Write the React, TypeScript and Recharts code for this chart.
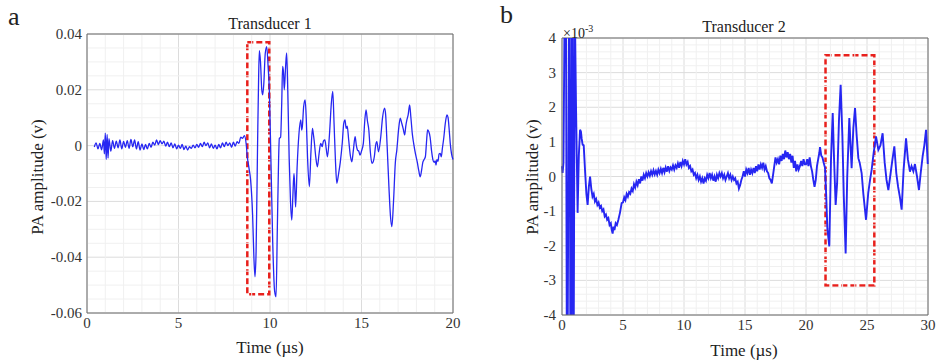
import React from 'react';
import { LineChart, Line, XAxis, YAxis, CartesianGrid, ReferenceLine, ReferenceArea } from 'recharts';

// Transducer 1 (time in µs, amplitude in V)
const leftTime = [
  0.4, 0.5, 0.6, 0.7, 0.8, 0.9, 0.95, 1.0, 1.05, 1.1, 1.15, 1.2, 1.3, 1.4, 1.5, 1.6, 1.7, 1.8, 1.9, 2.0,
  2.1, 2.2, 2.3, 2.4, 2.5, 2.6, 2.7, 2.8, 2.9, 3.0, 3.1, 3.2, 3.3, 3.4, 3.5, 3.6, 3.7, 3.8, 3.9, 4.0,
  4.1, 4.2, 4.3, 4.4, 4.5, 4.6, 4.7, 4.8, 4.9, 5.0, 5.1, 5.2, 5.3, 5.4, 5.5, 5.6, 5.7, 5.8, 5.9, 6.0,
  6.1, 6.2, 6.3, 6.4, 6.5, 6.6, 6.7, 6.8, 6.9, 7.0, 7.1, 7.2, 7.3, 7.4, 7.5, 7.6, 7.7, 7.8, 7.9, 8.0,
  8.1, 8.2, 8.3, 8.4, 8.5, 8.6, 8.7, 8.76, 8.85, 8.94, 9.05, 9.12, 9.18, 9.24, 9.32, 9.38, 9.42, 9.48, 9.55, 9.6,
  9.66, 9.74, 9.82, 9.9, 9.96, 10.05, 10.15, 10.25, 10.33, 10.4, 10.47, 10.51, 10.58, 10.64, 10.69, 10.74, 10.78, 10.85, 10.91, 10.97,
  11.05, 11.12, 11.19, 11.25, 11.31, 11.36, 11.4, 11.48, 11.58, 11.68, 11.73, 11.77, 11.84, 11.92, 11.98, 12.05, 12.15, 12.24, 12.32, 12.37,
  12.41, 12.5, 12.59, 12.68, 12.77, 12.85, 12.92, 13.0, 13.07, 13.14, 13.25, 13.35, 13.43, 13.5, 13.58, 13.65, 13.75, 13.84, 13.95, 14.03,
  14.1, 14.16, 14.22, 14.3, 14.4, 14.47, 14.55, 14.65, 14.72, 14.78, 14.85, 14.92, 15.0, 15.1, 15.18, 15.25, 15.32, 15.4, 15.48, 15.57,
  15.64, 15.7, 15.77, 15.84, 15.93, 16.05, 16.15, 16.26, 16.32, 16.4, 16.5, 16.58, 16.66, 16.75, 16.85, 16.93, 17.03, 17.12, 17.2, 17.28,
  17.36, 17.42, 17.48, 17.55, 17.63, 17.7, 17.78, 17.85, 17.95, 18.05, 18.13, 18.21, 18.28, 18.35, 18.42, 18.49, 18.55, 18.61, 18.68, 18.75,
  18.83, 18.9, 18.97, 19.03, 19.07, 19.12, 19.18, 19.24, 19.3, 19.36, 19.42, 19.5, 19.58, 19.67, 19.73, 19.8, 19.85, 19.92, 20.0,
];
const leftAmp = [
  -0.0005, 0.001, -0.0012, 0.0008, -0.0015, 0.002, -0.003, 0.0045, -0.005, 0.004, -0.0045, 0.0025, -0.002, 0.0018, -0.001, 0.0016, -0.0008, 0.002, -0.0012, 0.0015,
  -0.0006, 0.0018, -0.001, 0.0022, -0.0004, 0.002, -0.0012, 0.0014, -0.0016, 0.0006, -0.0014, 0.0004, -0.0012, 0.0008, -0.0006, 0.0012, 0.0002, 0.002, 0.0004, 0.0018,
  0.0006, 0.0016, -0.0002, 0.0012, -0.0004, 0.001, -0.0008, 0.0006, -0.0012, 0.0002, -0.001, 0.0004, -0.0014, -0.0002, -0.0016, -0.0004, -0.001, 0.0002, -0.0008, 0.0004,
  -0.0006, 0.0008, -0.0004, 0.0012, 0.0, 0.001, -0.0008, 0.0006, -0.001, 0.0002, -0.0012, 0.0004, -0.0008, 0.001, -0.0004, 0.0012, 0.0, 0.001, -0.0006, 0.0012,
  -0.0002, 0.0014, 0.0008, 0.003, 0.0026, 0.0036, 0.0005, -0.004, -0.008, -0.0123, -0.025, -0.04, -0.047, -0.038, 0.0, 0.025, 0.034, 0.03, 0.02, 0.0182,
  0.022, 0.033, 0.0355, 0.028, 0.0206, -0.005, -0.035, -0.052, -0.0542, -0.03, -0.005, 0.0026, 0.003, 0.015, 0.0284, 0.026, 0.02, 0.028, 0.0332, 0.02,
  -0.005, -0.02, -0.0267, -0.018, -0.01, -0.016, -0.022, -0.008, 0.004, 0.0092, 0.0056, 0.007, 0.014, 0.0164, 0.01, -0.004, -0.0147, -0.002, 0.0062, 0.004,
  0.002, -0.004, -0.0076, -0.003, 0.0008, -0.0004, 0.0016, 0.002, -0.001, -0.004, 0.004, 0.015, 0.0194, 0.008, -0.006, -0.0135, -0.01, -0.006, 0.001, 0.008,
  0.0092, 0.0062, 0.007, 0.002, -0.004, -0.0058, -0.002, 0.0032, 0.0, -0.0016, -0.002, -0.0034, -0.002, 0.0008, 0.009, 0.0128, 0.009, 0.0056, -0.002, -0.0064,
  -0.0058, -0.004, 0.0, 0.0014, -0.0022, 0.003, 0.01, 0.0134, 0.011, 0.0, -0.015, -0.025, -0.029, -0.02, -0.006, -0.0016, 0.006, 0.0098, 0.008, 0.006,
  0.0038, 0.007, 0.0092, 0.011, 0.0146, 0.01, 0.004, 0.0008, -0.003, -0.006, -0.009, -0.0112, -0.009, -0.006, -0.005, -0.004, 0.001, 0.0056, 0.005, 0.003,
  -0.002, -0.005, -0.006, -0.0055, -0.007, -0.005, -0.0056, -0.003, -0.0028, -0.004, -0.001, 0.003, 0.008, 0.011, 0.01, 0.005, 0.0008, -0.003, -0.005,
];

// Transducer 2 (time in µs, amplitude in units of 1e-3 V)
const rightTime = [
  0.0, 0.05, 0.12, 0.3, 0.42, 0.62, 0.7, 0.86, 0.92, 1.05, 1.15, 1.22, 1.28, 1.38, 1.48, 1.55, 1.61, 1.69,
  1.78, 1.9, 2.0, 2.1, 2.2, 2.3, 2.4, 2.5, 2.6, 2.7, 2.8, 2.9, 3.0, 3.1, 3.2, 3.3, 3.4, 3.5, 3.6, 3.7,
  3.8, 3.9, 4.0, 4.08, 4.15, 4.22, 4.3, 4.4, 4.5, 4.62, 4.75, 4.89, 5.0, 5.1, 5.2, 5.3, 5.4, 5.5, 5.6, 5.7,
  5.8, 5.9, 6.0, 6.1, 6.2, 6.3, 6.4, 6.5, 6.6, 6.7, 6.8, 6.9, 7.0, 7.1, 7.2, 7.3, 7.4, 7.5, 7.6, 7.7,
  7.8, 7.9, 8.0, 8.1, 8.2, 8.3, 8.4, 8.5, 8.6, 8.7, 8.8, 8.9, 9.0, 9.1, 9.2, 9.3, 9.4, 9.5, 9.6, 9.7,
  9.8, 9.9, 10.0, 10.1, 10.2, 10.3, 10.4, 10.5, 10.6, 10.7, 10.8, 10.9, 11.0, 11.1, 11.2, 11.3, 11.4, 11.5, 11.6, 11.7,
  11.8, 11.9, 12.0, 12.1, 12.2, 12.3, 12.4, 12.5, 12.6, 12.7, 12.8, 12.9, 13.0, 13.1, 13.2, 13.3, 13.4, 13.5, 13.6, 13.7,
  13.8, 13.9, 14.0, 14.1, 14.2, 14.3, 14.4, 14.5, 14.6, 14.7, 14.8, 14.9, 15.0, 15.1, 15.2, 15.3, 15.4, 15.5, 15.6, 15.7,
  15.8, 15.9, 16.0, 16.1, 16.2, 16.3, 16.4, 16.5, 16.6, 16.7, 16.8, 16.9, 17.0, 17.1, 17.2, 17.3, 17.4, 17.5, 17.6, 17.7,
  17.8, 17.9, 18.0, 18.1, 18.2, 18.3, 18.4, 18.5, 18.6, 18.7, 18.8, 18.9, 19.0, 19.1, 19.2, 19.3, 19.4, 19.5, 19.6, 19.7,
  19.8, 19.9, 20.0, 20.1, 20.2, 20.3, 20.4, 20.5, 20.6, 20.7, 20.8, 20.9, 21.0, 21.1, 21.15, 21.25, 21.35, 21.45, 21.56, 21.65,
  21.75, 21.91, 22.05, 22.19, 22.3, 22.43, 22.55, 22.7, 22.84, 22.98, 23.1, 23.25, 23.38, 23.55, 23.65, 23.74, 23.88, 24.02, 24.15, 24.29,
  24.4, 24.56, 24.7, 24.92, 25.1, 25.25, 25.38, 25.55, 25.74, 25.93, 26.1, 26.28, 26.45, 26.6, 26.75, 26.9, 27.05, 27.24, 27.4, 27.55,
  27.7, 27.84, 28.0, 28.2, 28.35, 28.52, 28.65, 28.8, 28.93, 29.1, 29.26, 29.4, 29.56, 29.7, 29.84, 29.98,
];
const rightAmp = [
  0.3, 0.1, 0.4, 9, -9, 9, -9, 9, -9, 5, 2.0, 0.4, -1.05, 0.6, 1.35, 1.3, 1.1, 0.92,
  0.9, 0.1, -0.5, -0.82, -0.3, 0.0, -0.35, -0.58, -0.5, -0.72, -0.65, -0.82, -0.75, -0.9, -0.85, -1.0, -0.95, -1.15, -1.1, -1.25,
  -1.2, -1.4, -1.35, -1.55, -1.65, -1.45, -1.55, -1.35, -1.4, -1.25, -1.05, -0.77, -0.75, -0.6, -0.68, -0.5, -0.58, -0.45, -0.5, -0.35,
  -0.42, -0.22, -0.32, -0.15, -0.25, -0.08, -0.2, 0.0, -0.12, 0.05, -0.05, 0.1, 0.0, 0.12, 0.02, 0.15, 0.05, 0.18, 0.06, 0.16,
  0.05, 0.2, 0.1, 0.22, 0.1, 0.25, 0.12, 0.26, 0.14, 0.3, 0.16, 0.26, 0.2, 0.32, 0.2, 0.32, 0.25, 0.38, 0.25, 0.42,
  0.3, 0.45, 0.35, 0.5, 0.35, 0.42, 0.25, 0.3, 0.15, 0.2, 0.05, 0.1, -0.05, 0.05, -0.1, 0.0, -0.15, -0.05, -0.2, -0.05,
  -0.12, 0.05, -0.05, 0.1, -0.05, 0.05, -0.12, 0.0, -0.15, 0.05, -0.05, 0.1, 0.0, 0.1, -0.05, 0.05, -0.1, 0.0, 0.1, -0.05,
  0.05, -0.1, 0.0, -0.1, -0.05, -0.2, -0.15, -0.35, -0.25, -0.1, 0.0, 0.15, 0.0, 0.2, 0.1, 0.25, 0.05, 0.2, 0.1, 0.25,
  0.1, 0.3, 0.15, 0.35, 0.2, 0.35, 0.25, 0.4, 0.2, 0.3, 0.15, 0.1, -0.05, -0.1, -0.2, 0.05, 0.3, 0.55, 0.4, 0.5,
  0.35, 0.6, 0.45, 0.65, 0.5, 0.75, 0.55, 0.7, 0.5, 0.65, 0.4, 0.6, 0.25, 0.45, 0.15, 0.35, 0.2, 0.3, 0.45, 0.3,
  0.5, 0.35, 0.35, 0.5, 0.3, 0.55, 0.3, 0.15, -0.1, -0.3, -0.1, 0.3, 0.5, 0.7, 0.85, 0.6, 0.55, 0.4, 0.25, -0.5,
  -1.5, -2.02, 0.5, 1.83, 0.5, -0.82, -0.2, 1.6, 2.65, 1.2, -0.6, -2.22, 0.0, 1.69, 0.9, 0.24, 1.4, 1.98, 1.2, 0.53,
  0.4, 0.1, -0.5, -1.25, -0.48, -0.1, 0.19, 0.7, 1.16, 0.77, 0.9, 1.25, 0.4, -0.1, -0.39, 0.0, 0.4, 0.87, 0.1, -0.3,
  -0.6, -0.96, 0.2, 1.1, 0.5, 0.14, 0.3, 0.15, 0.36, 0.0, -0.39, 0.1, 0.58, 0.9, 1.35, 0.36,
];

const leftXTicks = [0, 5, 10, 15, 20];
const leftYTicks = [-0.06, -0.04, -0.02, 0, 0.02, 0.04];
const leftMinorX = [1, 2, 3, 4, 6, 7, 8, 9, 11, 12, 13, 14, 16, 17, 18, 19];
const leftMinorY = [-0.055, -0.05, -0.045, -0.035, -0.03, -0.025, -0.015, -0.01, -0.005, 0.005, 0.01, 0.015, 0.025, 0.03, 0.035];

const rightXTicks = [0, 5, 10, 15, 20, 25, 30];
const rightYTicks = [-4, -3, -2, -1, 0, 1, 2, 3, 4];
const rightMinorX = [1, 2, 3, 4, 6, 7, 8, 9, 11, 12, 13, 14, 16, 17, 18, 19, 21, 22, 23, 24, 26, 27, 28, 29];
const rightMinorY = [
  -3.8, -3.6, -3.4, -3.2, -2.8, -2.6, -2.4, -2.2, -1.8, -1.6, -1.4, -1.2, -0.8, -0.6, -0.4, -0.2,
  0.2, 0.4, 0.6, 0.8, 1.2, 1.4, 1.6, 1.8, 2.2, 2.4, 2.6, 2.8, 3.2, 3.4, 3.6, 3.8,
];

const leftData = leftTime.map((t, i) => ({ t, v: leftAmp[i] }));
const rightData = rightTime.map((t, i) => ({ t, v: rightAmp[i] }));

const FONT = '"Liberation Serif", "Times New Roman", serif';
const BLUE = '#2626f2';
const RED = '#e8201c';
const AXIS = '#6b6b6b';
const MAJOR = '#dcdcdc';
const MINOR = '#f0f0f0';

const fmtLeft = (v: number) => (v === 0 ? '0' : v.toFixed(2));

// serif tick labels drawn by hand so the font is sure to apply
const XTick = (p: any) => (
  <text x={p.x} y={p.y + 13} textAnchor="middle" fontSize={15} fill="#333" style={{ fontFamily: FONT }}>
    {p.payload.value}
  </text>
);
const makeYTick = (fmt: (v: number) => string) => (p: any) => (
  <text x={p.x} y={p.y + 5} textAnchor="end" fontSize={15} fill="#333" style={{ fontFamily: FONT }}>
    {fmt(p.payload.value)}
  </text>
);
const LeftYTick = makeYTick(fmtLeft);
const RightYTick = makeYTick((v) => String(v));

const txt = (extra: React.CSSProperties): React.CSSProperties => ({
  position: 'absolute',
  fontFamily: FONT,
  color: '#222',
  whiteSpace: 'nowrap',
  lineHeight: 1,
  ...extra,
});

export default function App() {
  return (
    <div style={{ position: 'absolute', left: 0, top: 0, width: 936, height: 363, background: '#fff', fontFamily: FONT }}>
      <div style={{ position: 'absolute', left: 0, top: 0 }}>
        <LineChart width={466} height={363} data={leftData} margin={{ top: 34, right: 13, bottom: 20, left: 27 }}>
          {leftMinorX.map((x) => (
            <ReferenceLine key={'lx' + x} x={x} stroke={MINOR} />
          ))}
          {leftMinorY.map((y) => (
            <ReferenceLine key={'ly' + y} y={y} stroke={MINOR} />
          ))}
          <CartesianGrid stroke={MAJOR} />
          <XAxis
            dataKey="t"
            type="number"
            domain={[0, 20]}
            ticks={leftXTicks}
            height={30}
            tickSize={0}
            tickMargin={2}
            tick={XTick}
            stroke={AXIS}
          />
          <YAxis
            type="number"
            domain={[-0.06, 0.04]}
            ticks={leftYTicks}
            width={60}
            tickSize={0}
            tickMargin={5}
            tick={LeftYTick}
            stroke={AXIS}
          />
          <ReferenceLine y={0.04} stroke={AXIS} />
          <ReferenceLine x={20} stroke={AXIS} />
          <Line type="monotone" dataKey="v" stroke={BLUE} strokeWidth={1.3} dot={false} isAnimationActive={false} />
          <ReferenceArea x1={8.76} x2={9.96} y1={-0.0533} y2={0.037} fill="none" stroke={RED} strokeWidth={2.5} strokeDasharray="6 3" />
        </LineChart>
      </div>

      <div style={{ position: 'absolute', left: 466, top: 0 }}>
        <LineChart width={470} height={363} data={rightData} margin={{ top: 38, right: 8, bottom: 18, left: 36 }}>
          {rightMinorX.map((x) => (
            <ReferenceLine key={'rx' + x} x={x} stroke={MINOR} />
          ))}
          {rightMinorY.map((y) => (
            <ReferenceLine key={'ry' + y} y={y} stroke={MINOR} />
          ))}
          <CartesianGrid stroke={MAJOR} />
          <XAxis
            dataKey="t"
            type="number"
            domain={[0, 30]}
            ticks={rightXTicks}
            height={30}
            tickSize={0}
            tickMargin={2}
            tick={XTick}
            stroke={AXIS}
          />
          <YAxis
            type="number"
            domain={[-4, 4]}
            allowDataOverflow
            ticks={rightYTicks}
            width={60}
            tickSize={0}
            tickMargin={6}
            tick={RightYTick}
            stroke={AXIS}
          />
          <ReferenceLine y={4} stroke={AXIS} />
          <ReferenceLine x={30} stroke={AXIS} />
          <Line dataKey="v" stroke={BLUE} strokeWidth={1.9} dot={false} isAnimationActive={false} />
          <ReferenceArea x1={21.6} x2={25.6} y1={-3.15} y2={3.5} fill="none" stroke={RED} strokeWidth={2.5} strokeDasharray="6 3" />
        </LineChart>
      </div>

      <div style={txt({ left: 8, top: 4, fontSize: 26 })}>a</div>
      <div style={txt({ left: 500, top: 2, fontSize: 26 })}>b</div>

      <div style={txt({ left: 270, top: 24, fontSize: 16, transform: 'translate(-50%, -50%)' })}>Transducer 1</div>
      <div style={txt({ left: 744, top: 27, fontSize: 16, transform: 'translate(-50%, -50%)' })}>Transducer 2</div>

      <div style={txt({ left: 563, top: 24, fontSize: 14 })}>
        ×10<sup style={{ fontSize: 10, verticalAlign: 6 }}>-3</sup>
      </div>

      <div style={txt({ left: 270, top: 347, fontSize: 17, transform: 'translate(-50%, -50%)' })}>Time (µs)</div>
      <div style={txt({ left: 744, top: 350, fontSize: 17, transform: 'translate(-50%, -50%)' })}>Time (µs)</div>

      <div style={txt({ left: 37, top: 177, fontSize: 17, transform: 'translate(-50%, -50%) rotate(-90deg)' })}>
        PA amplitude (v)
      </div>
      <div style={txt({ left: 532, top: 177, fontSize: 17, transform: 'translate(-50%, -50%) rotate(-90deg)' })}>
        PA amplitude (v)
      </div>
    </div>
  );
}
